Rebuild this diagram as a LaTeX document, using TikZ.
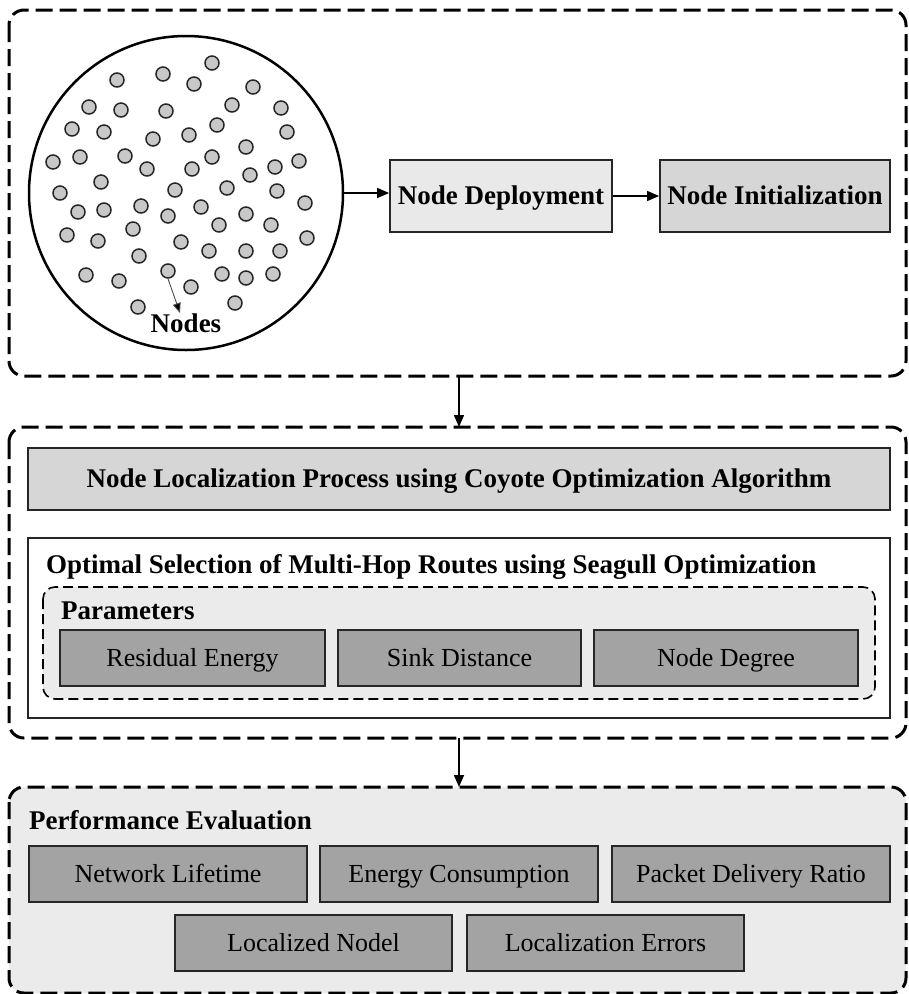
\documentclass[tikz,border=0pt]{standalone}
\usepackage{fontspec}
\setmainfont{Liberation Serif}
\usetikzlibrary{arrows.meta}
\definecolor{lightfill}{HTML}{E9E9E9}
\definecolor{midfill}{HTML}{D6D6D6}
\definecolor{darkfill}{HTML}{A3A3A3}
\definecolor{panelfill}{HTML}{EBEBEB}
\definecolor{dotfill}{HTML}{C8C8C8}
\tikzset{
  bigdash/.style={draw=black, line width=3pt, dash pattern=on 17pt off 7pt, rounded corners=15pt},
  smalldash/.style={draw=black, line width=1.6pt, dash pattern=on 10pt off 5pt, rounded corners=12pt},
  solidbox/.style={draw=black!85, line width=1.8pt, inner sep=0pt, text height=18pt, text depth=2pt},
  boldtxt/.style={font=\fontsize{27}{32}\selectfont\bfseries},
  regtxt/.style={font=\fontsize{26}{31}\selectfont},
  arr/.style={line width=1.5pt, -{Triangle[length=12pt,width=10pt]}},
  dot/.style={circle, draw=black!85, line width=1.5pt, fill=dotfill, minimum size=14pt, inner sep=0pt}
}
\begin{document}
\begin{tikzpicture}[x=1pt,y=-1pt]
\useasboundingbox (0,0) rectangle (909,994);
% panels
\draw[bigdash, fill=white] (9,10) rectangle (906,376);
\coordinate (topS) at (459,376);
\draw[bigdash, fill=white] (9,427) rectangle (906,738);
\coordinate (midN) at (459,427);
\coordinate (midS) at (459,738);
\draw[bigdash, fill=panelfill] (9,787) rectangle (906,993);
\coordinate (botN) at (459,787);

% circle field
\node[circle, draw=black, line width=2.5pt, minimum size=314pt, inner sep=0pt] (field) at (186,193) {};
\foreach \x/\y [count=\i] in {212/63,117/80,163/74,194/84,253/87,89/107,121/110,166/111,232/105,281/108,
72/129,104/132,153/139,189/135,217/125,287/132,246/147,53/162,80/157,125/156,
147/169,192/169,212/157,250/175,275/167,299/161,101/182,60/193,175/190,227/188,
277/191,305/203,78/212,104/210,141/206,168/216,201/207,246/214,219/225,271/225,
67/235,98/241,133/229,181/242,209/251,246/251,280/251,307/238,139/256,86/275,
119/281,168/271,191/287,222/274,246/278,273/274,138/307,235/303}
  \node[dot] (d\i) at (\x,\y) {};
\node[boldtxt, inner sep=0pt] (nodeslbl) at (186,323) {Nodes};
\draw[black!70, line width=0.9pt, -{Triangle[length=10pt,width=8pt,fill=black]}] (d52.south) -- (180,313);

% top row boxes
\node[solidbox, fill=lightfill, minimum width=222pt, minimum height=72pt, boldtxt] (deploy) at (501,196) {Node Deployment};
\node[solidbox, fill=midfill, minimum width=230pt, minimum height=72pt, boldtxt] (init) at (775,196) {Node Initialization};
\draw[arr] (field.east) -- (deploy.west |- field.east);
\draw[arr] (deploy.east) -- (init.west);

% arrows between panels
\draw[arr] (topS) -- (midN);
\draw[arr] (midS) -- (botN);

% middle panel
\node[solidbox, fill=midfill, minimum width=862pt, minimum height=62pt, boldtxt] (coa) at (459,479) {Node Localization Process using Coyote Optimization Algorithm};
\node[solidbox, fill=white, minimum width=862pt, minimum height=180pt] (soa) at (459,628) {};
\node[boldtxt, anchor=base west, inner sep=0pt] (soatitle) at (46,573) {Optimal Selection of Multi-Hop Routes using Seagull Optimization};
\draw[smalldash, fill=panelfill] (43,587) rectangle (875,699);
\node[boldtxt, anchor=base west, inner sep=0pt] (paramtitle) at (61,619) {Parameters};
\node[solidbox, fill=darkfill, minimum width=265pt, minimum height=56pt, regtxt] (p1) at (192.5,658) {Residual Energy};
\node[solidbox, fill=darkfill, minimum width=243pt, minimum height=56pt, regtxt] (p2) at (459.5,658) {Sink Distance};
\node[solidbox, fill=darkfill, minimum width=264pt, minimum height=56pt, regtxt] (p3) at (726,658) {Node Degree};

% bottom panel
\node[boldtxt, anchor=base west, inner sep=0pt] (perftitle) at (29,829) {Performance Evaluation};
\node[solidbox, fill=darkfill, minimum width=278pt, minimum height=56pt, regtxt] (e1) at (168,874) {Network Lifetime};
\node[solidbox, fill=darkfill, minimum width=278pt, minimum height=56pt, regtxt] (e2) at (459,874) {Energy Consumption};
\node[solidbox, fill=darkfill, minimum width=278pt, minimum height=56pt, regtxt] (e3) at (751,874) {Packet Delivery Ratio};
\node[solidbox, fill=darkfill, minimum width=277pt, minimum height=56pt, regtxt] (e4) at (313.5,943) {Localized Nodel};
\node[solidbox, fill=darkfill, minimum width=277pt, minimum height=56pt, regtxt] (e5) at (605.5,943) {Localization Errors};
\end{tikzpicture}
\end{document}
